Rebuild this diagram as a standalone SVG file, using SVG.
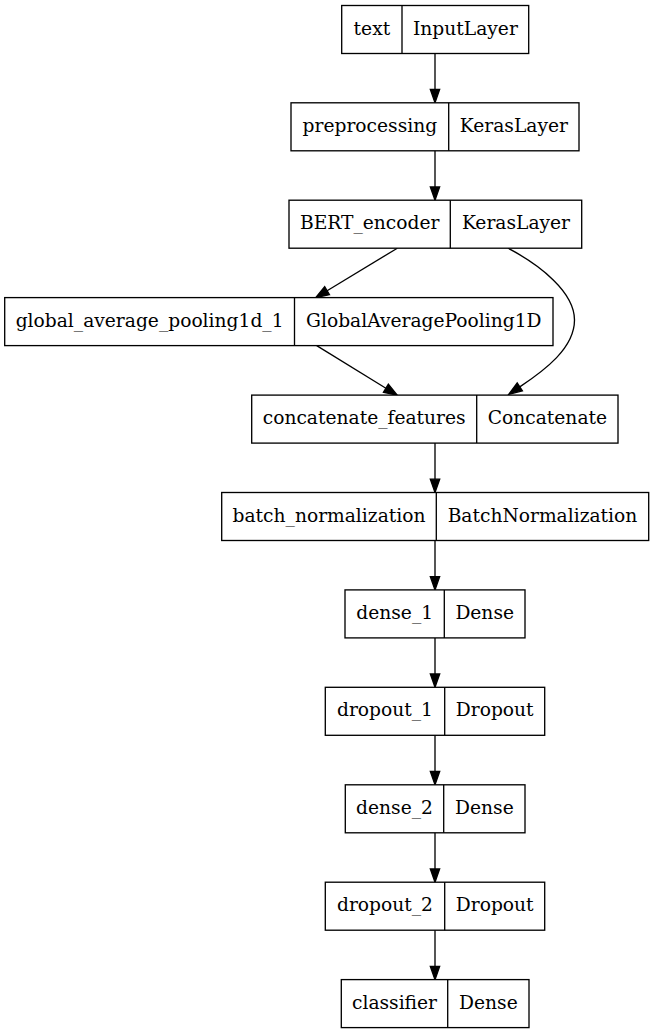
<svg xmlns="http://www.w3.org/2000/svg" width="654" height="1033" viewBox="0 0 654 1033">
<style>
.box{fill:#fff;stroke:#000;stroke-width:1.33}
.div{stroke:#000;stroke-width:1.33}
text{font-family:"DejaVu Serif","Liberation Serif",serif;font-size:18.67px;text-anchor:middle;fill:#000}
.e{fill:none;stroke:#000;stroke-width:1.33;marker-end:url(#ah)}
</style>
<defs>
<marker id="ah" markerUnits="userSpaceOnUse" markerWidth="14" markerHeight="10" refX="0" refY="0" orient="auto" overflow="visible">
<path d="M0,-4.67 L13.33,0 L0,4.67 Z" fill="#000" stroke="#000" stroke-width="1.33"/>
</marker>
</defs>
<rect width="654" height="1033" fill="#fff"/>
<g id="edges">
<path class="e" d="M435,53.3 V89.4"/>
<path class="e" d="M435,150.8 V186.9"/>
<path class="e" d="M397.3,248.2 L327.1,290.7"/>
<path class="e" d="M508,248.2 C540,265 574.5,292 574.5,320 C574.5,348 545,370 519.8,386.9"/>
<path class="e" d="M316.7,345.6 L385.9,388.2"/>
<path class="e" d="M435,443.1 V479.2"/>
<path class="e" d="M435,540.5 V576.6"/>
<path class="e" d="M435,637.9 V674"/>
<path class="e" d="M435,735.3 V771.5"/>
<path class="e" d="M435,832.8 V868.9"/>
<path class="e" d="M435,930.2 V966.3"/>
</g>
<g id="n_text">
<rect class="box" x="341.7" y="5.5" width="187" height="48"/>
<line class="div" x1="402" y1="5.5" x2="402" y2="53.5"/>
<text x="371.9" y="34.5">text</text>
<text x="465.4" y="34.5">InputLayer</text>
</g>
<g id="n_preprocessing">
<rect class="box" x="291" y="102.8" width="288" height="48"/>
<line class="div" x1="448.7" y1="102.8" x2="448.7" y2="150.8"/>
<text x="369.9" y="131.8">preprocessing</text>
<text x="513.9" y="131.8">KerasLayer</text>
</g>
<g id="n_bert">
<rect class="box" x="289" y="200.2" width="292.7" height="48"/>
<line class="div" x1="450.3" y1="200.2" x2="450.3" y2="248.2"/>
<text x="369.7" y="229.2">BERT_encoder</text>
<text x="516" y="229.2">KerasLayer</text>
</g>
<g id="n_global">
<rect class="box" x="4.7" y="297.6" width="548.3" height="48"/>
<line class="div" x1="294.5" y1="297.6" x2="294.5" y2="345.6"/>
<text x="149.6" y="326.6">global_average_pooling1d_1</text>
<text x="423.8" y="326.6">GlobalAveragePooling1D</text>
</g>
<g id="n_concat">
<rect class="box" x="251.7" y="395.1" width="366.3" height="48"/>
<line class="div" x1="476.7" y1="395.1" x2="476.7" y2="443.1"/>
<text x="364.2" y="424.1">concatenate_features</text>
<text x="547.4" y="424.1">Concatenate</text>
</g>
<g id="n_batch">
<rect class="box" x="221.7" y="492.5" width="427" height="48"/>
<line class="div" x1="436.3" y1="492.5" x2="436.3" y2="540.5"/>
<text x="329" y="521.5">batch_normalization</text>
<text x="542.5" y="521.5">BatchNormalization</text>
</g>
<g id="n_dense1">
<rect class="box" x="345" y="589.9" width="180" height="48"/>
<line class="div" x1="444.3" y1="589.9" x2="444.3" y2="637.9"/>
<text x="394.7" y="618.9">dense_1</text>
<text x="484.7" y="618.9">Dense</text>
</g>
<g id="n_dropout1">
<rect class="box" x="325.3" y="687.3" width="219.4" height="48"/>
<line class="div" x1="444.7" y1="687.3" x2="444.7" y2="735.3"/>
<text x="385" y="716.3">dropout_1</text>
<text x="494.7" y="716.3">Dropout</text>
</g>
<g id="n_dense2">
<rect class="box" x="345.3" y="784.8" width="179.7" height="48"/>
<line class="div" x1="443.7" y1="784.8" x2="443.7" y2="832.8"/>
<text x="394.5" y="813.8">dense_2</text>
<text x="484.4" y="813.8">Dense</text>
</g>
<g id="n_dropout2">
<rect class="box" x="325.3" y="882.2" width="219.4" height="48"/>
<line class="div" x1="444.7" y1="882.2" x2="444.7" y2="930.2"/>
<text x="385" y="911.2">dropout_2</text>
<text x="494.7" y="911.2">Dropout</text>
</g>
<g id="n_classifier">
<rect class="box" x="341.3" y="979.6" width="187.7" height="48"/>
<line class="div" x1="447.7" y1="979.6" x2="447.7" y2="1027.6"/>
<text x="394.5" y="1008.6">classifier</text>
<text x="488.4" y="1008.6">Dense</text>
</g>
</svg>
